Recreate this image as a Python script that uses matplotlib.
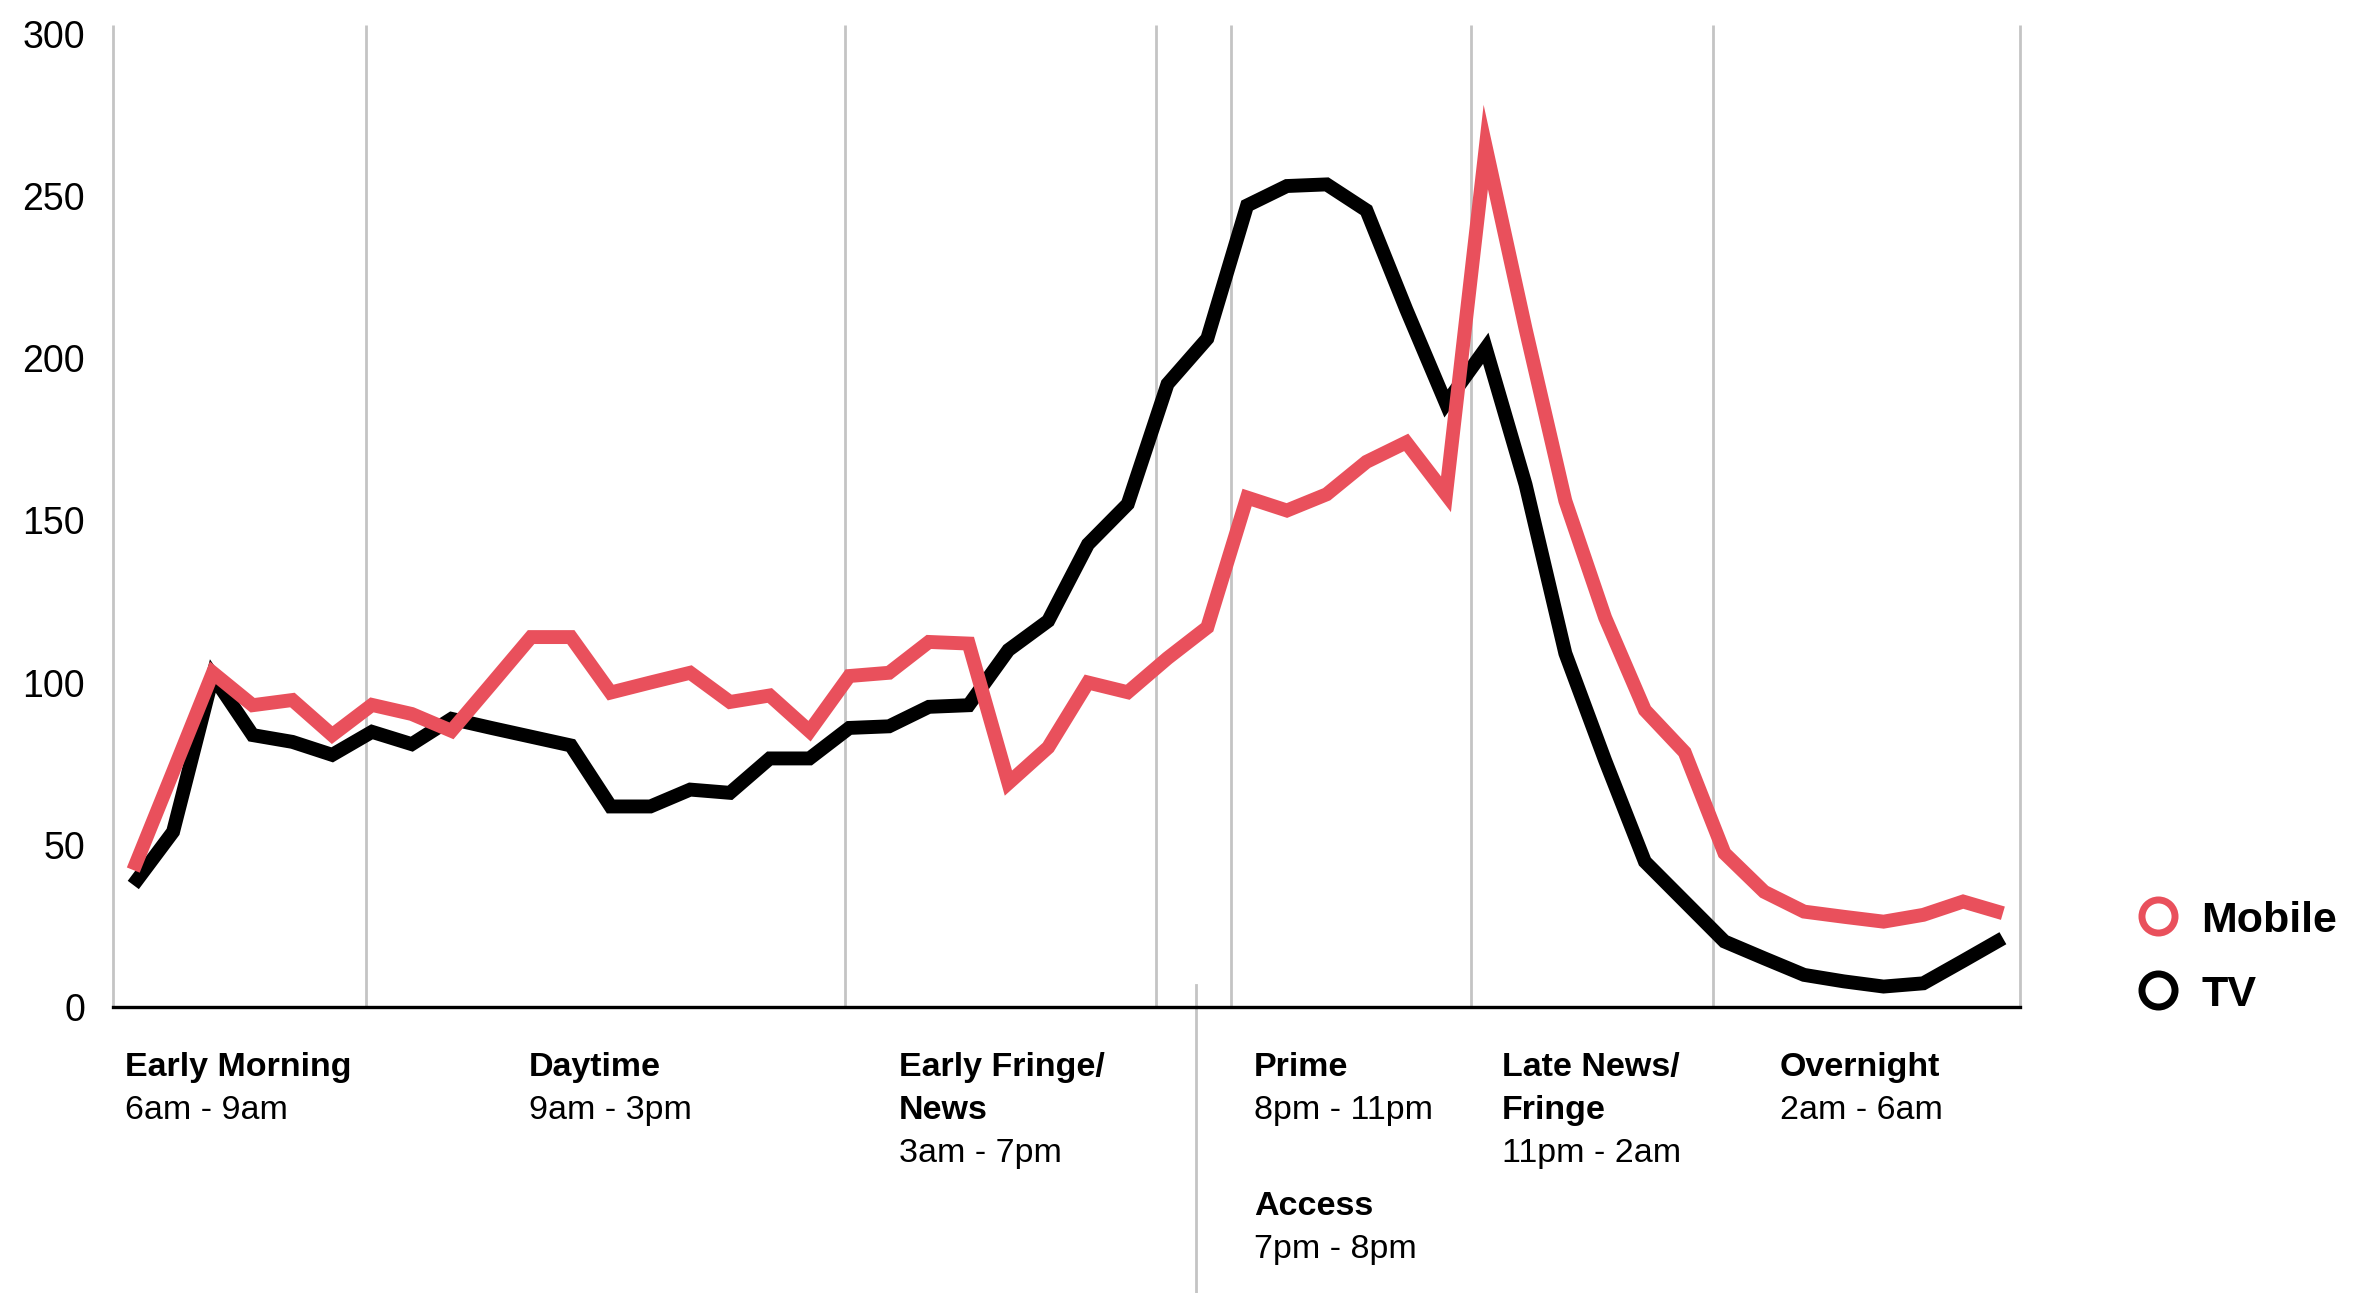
import numpy as np
import matplotlib
matplotlib.use("Agg")
import matplotlib.pyplot as plt
from matplotlib.lines import Line2D

plt.rcParams['font.family'] = ['Liberation Sans', 'DejaVu Sans']

# half-hour slots from 6am to 6am (index 0..47)
tv = [37.6, 54.0, 102, 83.8, 81.7, 77.7, 84.8, 81.0, 88.8, 86.0,
      83.3, 80.6, 61.8, 61.8, 67.0, 66.0, 76.6, 76.6, 86.0, 86.5,
      92.5, 93.0, 110, 119, 142.6, 155, 192, 206, 247, 253,
      253.5, 245.5, 215, 186, 203, 161, 109, 76, 44.8, 32.5,
      20.2, 15.0, 9.9, 7.9, 6.3, 7.3, 14.2, 21.2]
mobile = [42.2, 72.5, 103, 93.0, 94.6, 83.8, 93.1, 90.3, 85.1, 99.5,
          114, 114, 96.9, 100, 103, 94.0, 96.0, 85.0, 102, 103,
          112.5, 112, 69.0, 80.0, 100, 97.0, 107.5, 117, 157, 153,
          158, 168, 174, 158, 265, 209, 156, 120, 91.5, 78.5,
          47.4, 35.5, 29.4, 27.8, 26.3, 28.4, 32.5, 28.9]
slots = np.arange(len(tv))

# daypart boundaries (in slot units) and the labels under each daypart
boundaries = [-0.51, 5.85, 17.89, 25.71, 27.59, 33.62, 39.70, 47.43]
access_mark = 26.71
yticks = [0, 50, 100, 150, 200, 250, 300]

dayparts = [
    (["Early Morning"], "6am - 9am", 125),
    (["Daytime"], "9am - 3pm", 529),
    (["Early Fringe/", "News"], "3am - 7pm", 899),
    (["Prime"], "8pm - 11pm", 1254),
    (["Late News/", "Fringe"], "11pm - 2am", 1502),
    (["Overnight"], "2am - 6am", 1780),
]
access = (["Access"], "7pm - 8pm", 1254)

RED = '#E9505C'
GRID = '#c4c4c4'

W, H = 2369, 1293
fig = plt.figure(figsize=(W / 100, H / 100), dpi=100)
ax = fig.add_axes([113 / W, 1 - 1007 / H, (2020 - 113) / W, (1007 - 25.4) / H])

ax.vlines(boundaries, 0, 302.5, color=GRID, lw=2, clip_on=False, zorder=1)
ax.axvline(access_mark, ymin=-0.292, ymax=0.0224, color=GRID, lw=2, clip_on=False)

ax.plot(slots, tv, color='black', lw=10, solid_joinstyle='miter',
        solid_capstyle='butt', zorder=3)
ax.plot(slots, mobile, color=RED, lw=10, solid_joinstyle='miter',
        solid_capstyle='butt', zorder=4)

ax.set_xlim(boundaries[0], boundaries[-1])
ax.set_ylim(0, 302.5)
for s in ['top', 'right', 'left']:
    ax.spines[s].set_visible(False)
ax.spines['bottom'].set_linewidth(2.4)
ax.spines['bottom'].set_zorder(5)
ax.set_xticks([])
ax.set_yticks(yticks)
ax.tick_params(axis='y', length=0, pad=20, labelsize=27)


def fx(px):
    return px / W


def fy(py):
    return 1 - py / H


def block(titles, times, left, base):
    y = base
    for t in titles:
        fig.text(fx(left), fy(y), t, fontsize=24.5, fontweight='bold', va='baseline')
        y += 43
    fig.text(fx(left), fy(y), times, fontsize=24.5, va='baseline')


for titles, times, left in dayparts:
    block(titles, times, left, 1076)
block(access[0], access[1], access[2], 1215)

# legend
for label, col, yy in [("Mobile", RED, 916), ("TV", 'black', 990)]:
    fig.add_artist(Line2D([fx(2158)], [fy(yy)], ls='none', marker='o', ms=23.8,
                          mew=5, mfc='white', mec=col, transform=fig.transFigure))
    fig.text(fx(2201), fy(yy), label, fontsize=31, fontweight='bold', va='center_baseline')

fig.savefig("out.png", dpi=100)
